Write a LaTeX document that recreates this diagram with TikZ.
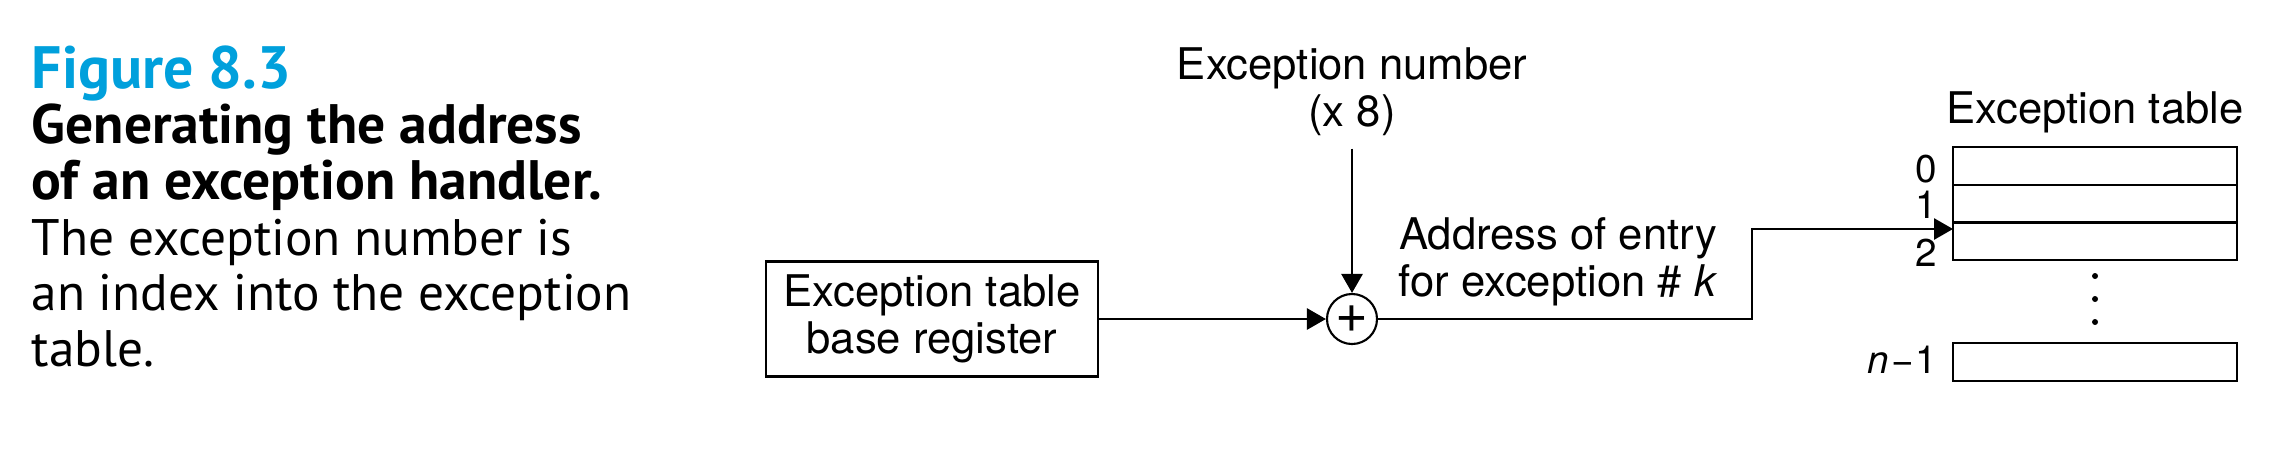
\documentclass[tikz,border=0pt]{standalone}
\usepackage{fontspec}
\setmainfont{TeX Gyre Heros}
\newfontfamily\captionfont{PT Sans}
\usetikzlibrary{arrows.meta, positioning, shapes.geometric, calc}
\definecolor{figblue}{RGB}{0,160,220}

\begin{document}
\begin{tikzpicture}[x=0.01cm, y=-0.01cm, every node/.style={font=\fontsize{12.4}{13.4}\selectfont}]
  \useasboundingbox (0,0) rectangle (2288,454);
  % 定义样式
  \tikzstyle{register}=[rectangle, draw=black, line width=0.6pt, minimum width=3.31cm, minimum height=1.15cm, align=center, inner sep=0pt]
  \tikzstyle{adder}=[circle, draw=black, line width=0.6pt, minimum size=0.5cm, inner sep=0pt, font=\fontsize{16}{16}\selectfont]
  \tikzstyle{entry}=[rectangle, draw=black, line width=0.6pt, minimum width=2.84cm, minimum height=0.377cm, inner sep=0pt, outer sep=0pt, anchor=north west]
  \tikzstyle{index}=[anchor=east, inner sep=0pt, font=\fontsize{11}{11}\selectfont]
  \tikzstyle{arrow}=[line width=0.8pt, -{Triangle[length=0.19cm, width=0.21cm]}]

  % 图注
  \node (caption) [anchor=north west, align=left, inner sep=0pt, font=\captionfont\fontsize{14.6}{15.8}\selectfont] at (31,45)
    {{\fontsize{17}{15.8}\selectfont\bfseries\color{figblue}Figure 8.3}\\
     {\fontsize{15.8}{15.8}\selectfont\bfseries Generating the address}\\
     {\fontsize{15.8}{15.8}\selectfont\bfseries of an exception handler.}\\
     The exception number is\\an index into the exception\\table.};

  % 节点
  \node (base) [register] at (932,319) {Exception table\\base register};
  \node (plus) [adder] at (1352,319) {+};
  \node (number) [align=center] at (1352,92) {Exception number\\(x 8)};
  \node (address) [align=center] at (1558,262) {Address of entry\\for exception \# \textit{k}};

  \node (entry0) [entry] at (1953,147) {};
  \node (entry1) [entry, below=0pt of entry0] {};
  \node (entry2) [entry, below=0pt of entry1] {};
  \node (last) [entry] at (1953,343) {};
  \node (title) [above=0.02cm of entry0] {Exception table};

  \node (i0) [index] at (1938,169) {0};
  \node (i1) [index] at (1938,205) {1};
  \node (i2) [index] at (1938,253) {2};
  \node (in) [index] at (1938,360) {\textit{n}\kern0.6pt−\kern0.6pt1};
  \fill (2095,276) circle (3);
  \fill (2095,299) circle (3);
  \fill (2095,322) circle (3);

  % 箭头
  \coordinate (bend) at (1752,229);
  \draw[arrow] (base) -- (plus);
  \draw[arrow] (number) -- (plus);
  \draw[arrow] (plus) -| (bend) -- (bend -| entry2.west);
\end{tikzpicture}
\end{document}
